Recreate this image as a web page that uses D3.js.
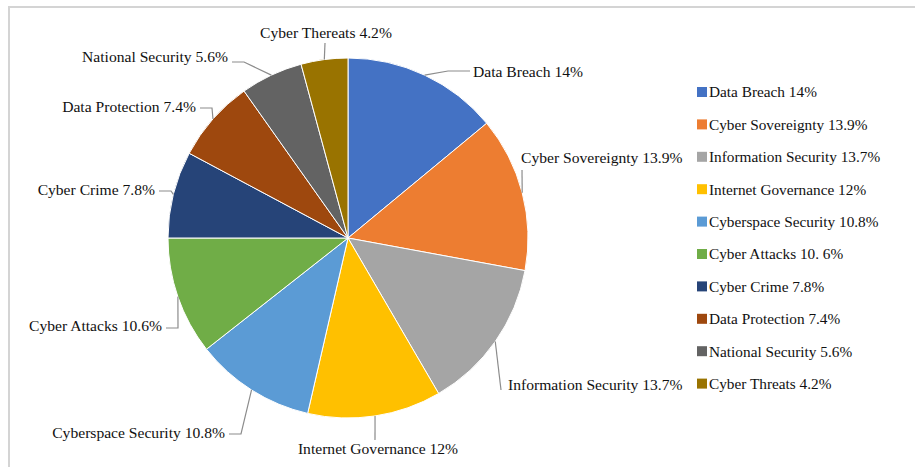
<!DOCTYPE html>
<html>
<head>
<meta charset="utf-8">
<script src="https://cdn.jsdelivr.net/npm/d3@7"></script>
<style>
  body { margin: 0; background: #fff; }
  text { font-family: "Liberation Serif", "Times New Roman", serif; fill: #111; }
</style>
</head>
<body>
<div id="chart"></div>
<script>
// data
const categories = ["Data Breach", "Cyber Sovereignty", "Information Security", "Internet Governance",
    "Cyberspace Security", "Cyber Attacks", "Cyber Crime", "Data Protection", "National Security", "Cyber Threats"];
const values = [14, 13.9, 13.7, 12, 10.8, 10.6, 7.8, 7.4, 5.6, 4.2];
const pieLabels = ["Data Breach 14%", "Cyber Sovereignty 13.9%", "Information Security 13.7%", "Internet Governance 12%",
    "Cyberspace Security 10.8%", "Cyber Attacks 10.6%", "Cyber Crime 7.8%", "Data Protection 7.4%",
    "National Security 5.6%", "Cyber Thereats 4.2%"];
const legendLabels = ["Data Breach 14%", "Cyber Sovereignty 13.9%", "Information Security 13.7%", "Internet Governance 12%",
    "Cyberspace Security 10.8%", "Cyber Attacks 10. 6%", "Cyber Crime 7.8%", "Data Protection 7.4%",
    "National Security 5.6%", "Cyber Threats 4.2%"];
const colors = ["#4472C4", "#ED7D31", "#A5A5A5", "#FFC000", "#5B9BD5", "#70AD47", "#264478", "#9E480E", "#636363", "#997300"];

// layout
const width = 915, height = 467,
      cx = 348, cy = 238, radius = 180,
      legendX = 697, legendY = 92, legendStep = 32.4, swatch = 10;

// label placement relative to pie centre: text x/y, anchor, leader end, elbow length
const labelLayout = [
    {tx: 125, ty: -166, anchor: "start", ex: 122, ey: -167, bend: -22},
    {tx: 173, ty: -80, anchor: "start", ex: 174, ey: -68, bend: 0},
    {tx: 160, ty: 147, anchor: "start", ex: 153, ey: 152, bend: 0},
    {tx: 30, ty: 211, anchor: "middle", ex: 27, ey: 202, bend: 0},
    {tx: -123, ty: 195, anchor: "end", ex: -119, ey: 196, bend: 12},
    {tx: -186, ty: 88, anchor: "end", ex: -182, ey: 90, bend: 12},
    {tx: -193, ty: -48, anchor: "end", ex: -189, ey: -47, bend: 12},
    {tx: -152, ty: -131, anchor: "end", ex: -148, ey: -130, bend: 12},
    {tx: -120, ty: -181, anchor: "end", ex: -116, ey: -176, bend: 12},
    {tx: -22, ty: -205, anchor: "middle", ex: -23, ey: -195, bend: 0}
];

const svg = d3.select("#chart").append("svg")
    .attr("width", width)
    .attr("height", height);

// frame
svg.append("path")
    .attr("d", "M9," + height + "V7H" + width)
    .attr("fill", "none")
    .attr("stroke", "#d4d4d4")
    .attr("stroke-width", 2);

const pie = d3.pie().sort(null).value(d => d);
const arcs = pie(values);
const arc = d3.arc().innerRadius(0).outerRadius(radius);

const g = svg.append("g").attr("transform", "translate(" + cx + "," + cy + ")");

g.selectAll(".slice")
    .data(arcs)
    .enter().append("path")
    .attr("class", "slice")
    .attr("d", arc)
    .attr("fill", (d, i) => colors[i])
    .attr("stroke", "#fff")
    .attr("stroke-width", 1);

// leader lines
g.selectAll(".leader")
    .data(arcs)
    .enter().append("polyline")
    .attr("class", "leader")
    .attr("points", (d, i) => {
        const a = (d.startAngle + d.endAngle) / 2;
        const L = labelLayout[i];
        const p0 = [radius * Math.sin(a), -radius * Math.cos(a)];
        return [p0, [L.ex + L.bend, L.ey], [L.ex, L.ey]].map(p => p.join(",")).join(" ");
    })
    .attr("fill", "none")
    .attr("stroke", "#8c8c8c")
    .attr("stroke-width", 1.2);

g.selectAll(".plabel")
    .data(arcs)
    .enter().append("text")
    .attr("class", "plabel")
    .attr("x", (d, i) => labelLayout[i].tx)
    .attr("y", (d, i) => labelLayout[i].ty)
    .attr("dy", "0.35em")
    .attr("text-anchor", (d, i) => labelLayout[i].anchor)
    .style("font-size", "15.6px")
    .text((d, i) => pieLabels[i]);

// legend
const legend = svg.selectAll(".legend")
    .data(categories)
    .enter().append("g")
    .attr("class", "legend")
    .attr("transform", (d, i) => "translate(" + legendX + "," + (legendY + i * legendStep) + ")");

legend.append("rect")
    .attr("x", 0)
    .attr("y", -swatch / 2)
    .attr("width", swatch)
    .attr("height", swatch)
    .attr("fill", (d, i) => colors[i]);

legend.append("text")
    .attr("x", swatch + 2)
    .attr("y", 0)
    .attr("dy", "0.35em")
    .style("font-size", "15.3px")
    .text((d, i) => legendLabels[i]);
</script>
</body>
</html>
